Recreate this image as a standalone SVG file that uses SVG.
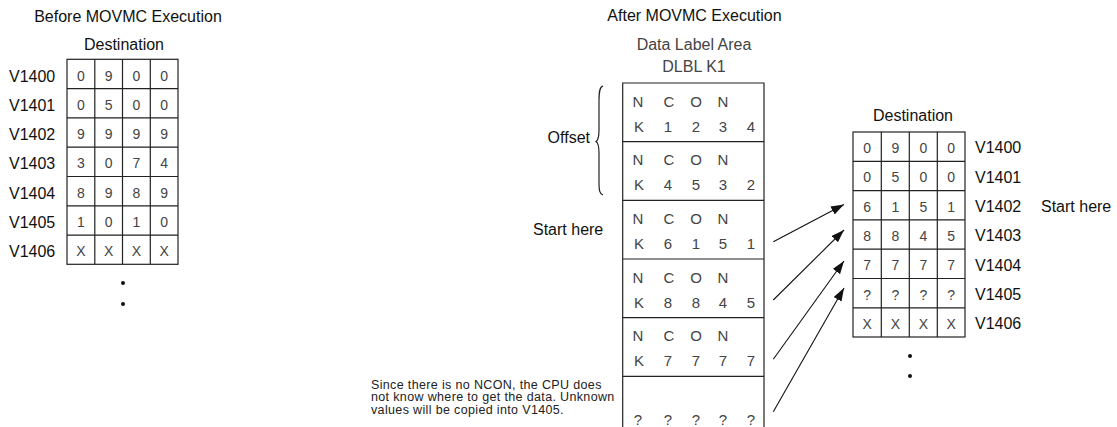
<svg xmlns="http://www.w3.org/2000/svg" width="1117" height="427" viewBox="0 0 1117 427">
<style>
text{font-family:"Liberation Sans",Arial,sans-serif;}
.t{font-size:16px;fill:#111;}
.s{font-size:16px;fill:#444;}
.d{font-size:14px;fill:#444;text-anchor:middle;}
.c{font-size:15px;fill:#444;text-anchor:middle;}
.m{text-anchor:middle;}
.g{fill:none;stroke:#222;stroke-width:1.2;}
.a{fill:none;stroke:#111;stroke-width:1.1;}
.n{font-size:12.5px;fill:#222;letter-spacing:0.35px;}
</style>
<defs>
<marker id="ah" markerUnits="userSpaceOnUse" markerWidth="14" markerHeight="10" refX="13" refY="4.5" orient="auto">
<path d="M0,0 L13,4.5 L0,9 z" fill="#111"/>
</marker>
</defs>

<g id="before">
<text class="t m" x="128" y="22">Before MOVMC Execution</text>
<text class="t m" x="124" y="50">Destination</text>
<rect class="g" x="67" y="59.3" width="111" height="205"/>
<path class="g" d="M94.8,59.3V264.3M122.5,59.3V264.3M150.3,59.3V264.3M67,88.6H178M67,117.9H178M67,147.2H178M67,176.5H178M67,205.8H178M67,235.1H178"/>
<g class="t">
<text x="9" y="81.5">V1400</text>
<text x="9" y="110.8">V1401</text>
<text x="9" y="140.1">V1402</text>
<text x="9" y="169.4">V1403</text>
<text x="9" y="198.7">V1404</text>
<text x="9" y="228">V1405</text>
<text x="9" y="257.3">V1406</text>
</g>
<g class="d">
<text x="81" y="80.5">0</text><text x="108.7" y="80.5">9</text><text x="136.4" y="80.5">0</text><text x="164.2" y="80.5">0</text>
<text x="81" y="109.8">0</text><text x="108.7" y="109.8">5</text><text x="136.4" y="109.8">0</text><text x="164.2" y="109.8">0</text>
<text x="81" y="139.1">9</text><text x="108.7" y="139.1">9</text><text x="136.4" y="139.1">9</text><text x="164.2" y="139.1">9</text>
<text x="81" y="168.4">3</text><text x="108.7" y="168.4">0</text><text x="136.4" y="168.4">7</text><text x="164.2" y="168.4">4</text>
<text x="81" y="197.7">8</text><text x="108.7" y="197.7">9</text><text x="136.4" y="197.7">8</text><text x="164.2" y="197.7">9</text>
<text x="81" y="227">1</text><text x="108.7" y="227">0</text><text x="136.4" y="227">1</text><text x="164.2" y="227">0</text>
<text x="81" y="256.3">X</text><text x="108.7" y="256.3">X</text><text x="136.4" y="256.3">X</text><text x="164.2" y="256.3">X</text>
</g>
<circle cx="123" cy="283" r="2" fill="#111"/>
<circle cx="123" cy="304" r="2" fill="#111"/>
</g>

<g id="datalabel">
<text class="t m" x="694.5" y="21">After MOVMC Execution</text>
<text class="s m" x="694" y="50">Data Label Area</text>
<text class="s m" x="694" y="72">DLBL K1</text>
<path class="g" d="M622.7,427V83H764V427M622.7,141.7H764M622.7,200.3H764M622.7,259H764M622.7,317.7H764M622.7,376.3H764"/>
<g class="c">
<text x="638" y="106.7">N</text><text x="669" y="106.7">C</text><text x="696" y="106.7">O</text><text x="723" y="106.7">N</text>
<text x="639" y="131.7">K</text><text x="668" y="131.7">1</text><text x="696" y="131.7">2</text><text x="723" y="131.7">3</text><text x="751" y="131.7">4</text>
<text x="638" y="165.4">N</text><text x="669" y="165.4">C</text><text x="696" y="165.4">O</text><text x="723" y="165.4">N</text>
<text x="639" y="190.4">K</text><text x="668" y="190.4">4</text><text x="696" y="190.4">5</text><text x="723" y="190.4">3</text><text x="751" y="190.4">2</text>
<text x="638" y="224">N</text><text x="669" y="224">C</text><text x="696" y="224">O</text><text x="723" y="224">N</text>
<text x="639" y="249">K</text><text x="668" y="249">6</text><text x="696" y="249">1</text><text x="723" y="249">5</text><text x="751" y="249">1</text>
<text x="638" y="282.7">N</text><text x="669" y="282.7">C</text><text x="696" y="282.7">O</text><text x="723" y="282.7">N</text>
<text x="639" y="307.7">K</text><text x="668" y="307.7">8</text><text x="696" y="307.7">8</text><text x="723" y="307.7">4</text><text x="751" y="307.7">5</text>
<text x="638" y="341.4">N</text><text x="669" y="341.4">C</text><text x="696" y="341.4">O</text><text x="723" y="341.4">N</text>
<text x="639" y="366.4">K</text><text x="668" y="366.4">7</text><text x="696" y="366.4">7</text><text x="723" y="366.4">7</text><text x="751" y="366.4">7</text>
<text x="638" y="425">?</text><text x="668" y="425">?</text><text x="696" y="425">?</text><text x="723" y="425">?</text><text x="751" y="425">?</text>
</g>
</g>

<g id="offset">
<path class="g" d="M603,86 C599.5,87 599,92 599,100 L599,130 C599,137 598.5,140 596,141.5 C598.5,143 599,146 599,153 L599,182 C599,190 599.5,194 603,195"/>
<text class="t" x="590" y="143" text-anchor="end">Offset</text>
</g>

<g id="starthere-left">
<text class="t" x="533" y="235">Start here</text>
</g>

<g id="note">
<text class="n" x="371" y="388.5">Since there is no NCON, the CPU does</text>
<text class="n" x="371" y="401">not know where to get the data. Unknown</text>
<text class="n" x="371" y="413.5">values will be copied into V1405.</text>
</g>

<g id="after-dest">
<text class="t m" x="913" y="121">Destination</text>
<rect class="g" x="853" y="132" width="112" height="205"/>
<path class="g" d="M881.3,132V337M909.3,132V337M937.3,132V337M853,161.3H965M853,190.6H965M853,219.9H965M853,249.2H965M853,278.5H965M853,307.8H965"/>
<g class="t">
<text x="975" y="153.3">V1400</text>
<text x="975" y="182.6">V1401</text>
<text x="975" y="211.9">V1402</text>
<text x="975" y="241.2">V1403</text>
<text x="975" y="270.5">V1404</text>
<text x="975" y="299.8">V1405</text>
<text x="975" y="329.1">V1406</text>
<text x="1041" y="211.9">Start here</text>
</g>
<g class="d">
<text x="867.2" y="153">0</text><text x="895.3" y="153">9</text><text x="923.3" y="153">0</text><text x="951.2" y="153">0</text>
<text x="867.2" y="182.3">0</text><text x="895.3" y="182.3">5</text><text x="923.3" y="182.3">0</text><text x="951.2" y="182.3">0</text>
<text x="867.2" y="211.6">6</text><text x="895.3" y="211.6">1</text><text x="923.3" y="211.6">5</text><text x="951.2" y="211.6">1</text>
<text x="867.2" y="240.9">8</text><text x="895.3" y="240.9">8</text><text x="923.3" y="240.9">4</text><text x="951.2" y="240.9">5</text>
<text x="867.2" y="270.2">7</text><text x="895.3" y="270.2">7</text><text x="923.3" y="270.2">7</text><text x="951.2" y="270.2">7</text>
<text x="867.2" y="299.5">?</text><text x="895.3" y="299.5">?</text><text x="923.3" y="299.5">?</text><text x="951.2" y="299.5">?</text>
<text x="867.2" y="328.8">X</text><text x="895.3" y="328.8">X</text><text x="923.3" y="328.8">X</text><text x="951.2" y="328.8">X</text>
</g>
<circle cx="910" cy="356" r="2" fill="#111"/>
<circle cx="910" cy="376" r="2" fill="#111"/>
</g>

<g id="connectors">
<line class="a" x1="773.3" y1="241.7" x2="844" y2="204.5" marker-end="url(#ah)"/>
<line class="a" x1="773.3" y1="300" x2="844" y2="230" marker-end="url(#ah)"/>
<line class="a" x1="773.3" y1="359.3" x2="844" y2="261" marker-end="url(#ah)"/>
<line class="a" x1="773.3" y1="411.7" x2="844" y2="288" marker-end="url(#ah)"/>
</g>
</svg>
